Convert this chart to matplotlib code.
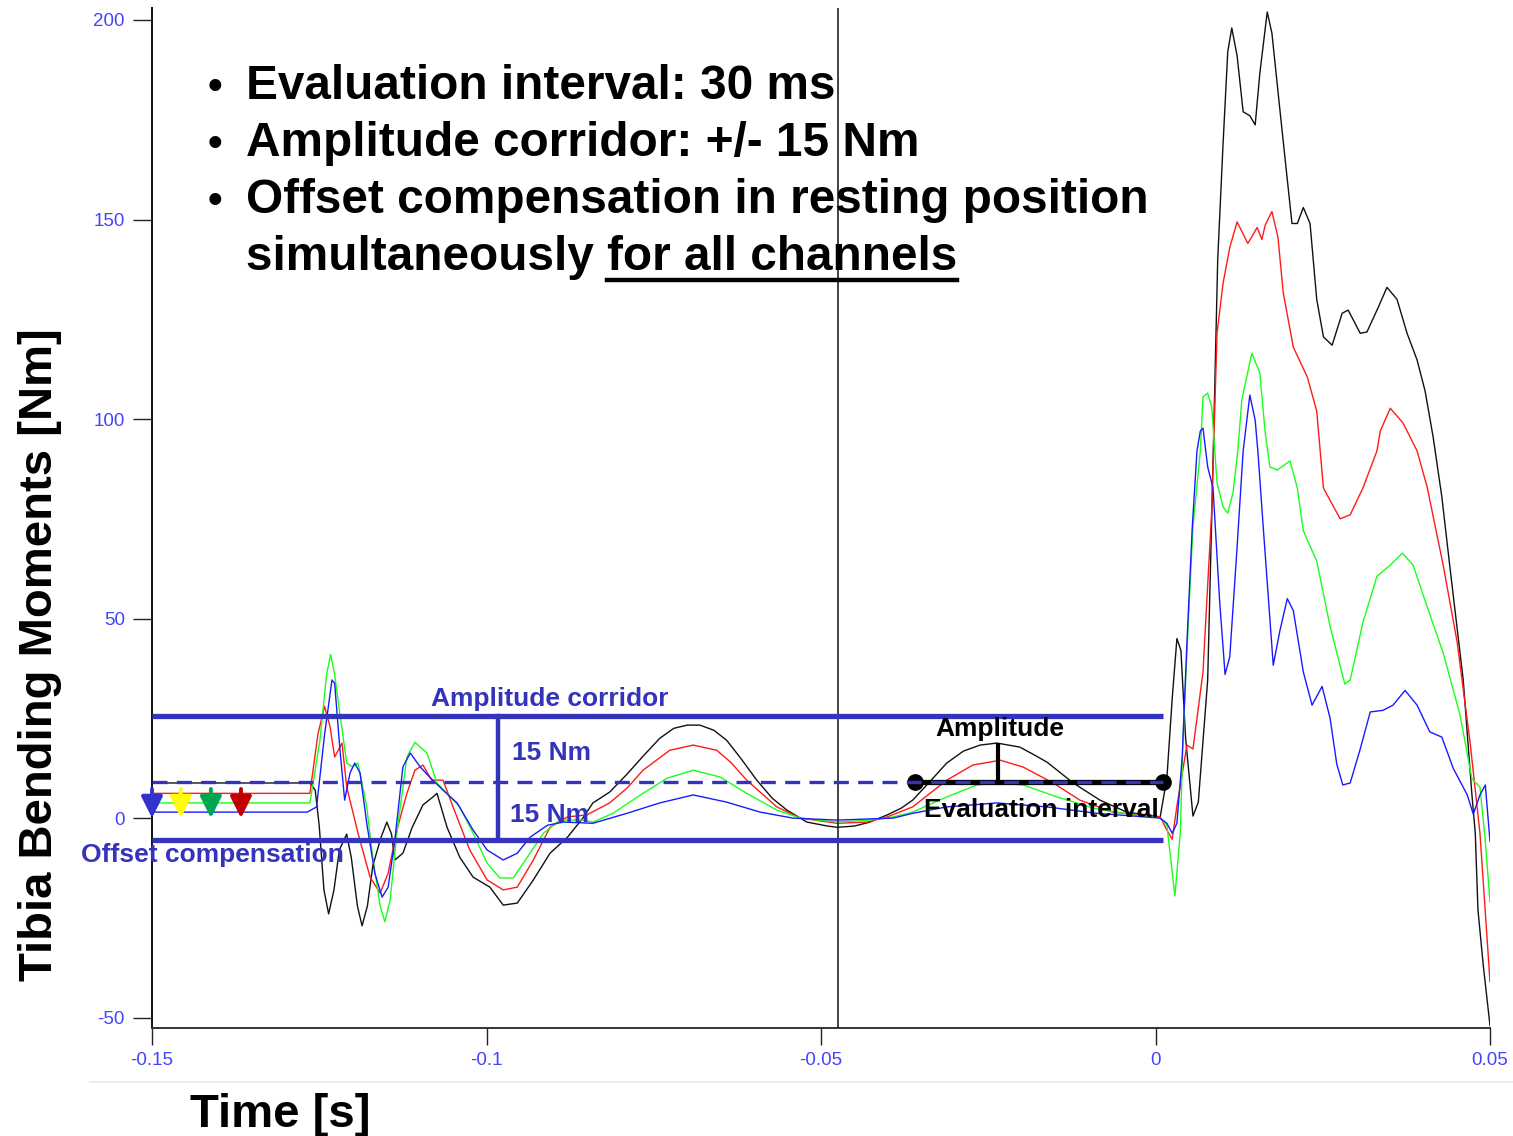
import matplotlib
matplotlib.use('Agg')
import matplotlib.pyplot as plt
from matplotlib.lines import Line2D
import numpy as np

plt.rcParams['font.family'] = ['Liberation Sans', 'DejaVu Sans']
plt.rcParams['axes.unicode_minus'] = False

# time in ms, moment in Nm
black_t = [-150, -126.4, -125.6, -125.0, -124.3, -123.6, -122.8, -122.0, -120.9, -120.2, -119.3, -118.6,
           -117.8, -117.0, -115.8, -114.9, -114.2, -113.7, -112.5, -111.1, -109.5, -108.0, -107.4, -105.9,
           -104.0, -102.0, -99.5, -97.5, -95.4, -93.0, -90.5, -87.9, -85.6, -84.1, -81.6, -79.0, -76.6,
           -74.1, -72.0, -70.0, -68.1, -66.0, -64.1, -62.0, -59.6, -57.3, -55.1, -52.1, -49.0, -47.6,
           -45.0, -42.7, -40.1, -38.0, -36.3, -33.8, -31.2, -28.7, -26.2, -23.7, -20.3, -18.3, -16.2,
           -12.3, -8.3, -4.3, 0.7, 1.7, 2.5, 3.2, 3.8, 4.5, 5.6, 6.4, 7.8, 8.4, 9.3, 10.1, 10.8, 11.4,
           12.2, 13.1, 14.1, 14.9, 15.6, 16.7, 17.4, 18.6, 19.7, 20.4, 21.2, 22.1, 23.1, 24.1, 25.1,
           26.4, 27.9, 28.8, 30.6, 31.6, 33.3, 34.6, 36.1, 37.6, 39.1, 40.3, 41.5, 42.8, 44.0, 46.0,
           47.3, 47.8, 48.2, 49.0, 50.0]
black_y = [8.8, 8.8, 7, -2, -18, -24, -18, -8, -4, -10, -22, -27,
           -22, -12, -5, -1, -4, -10.5, -8.8, -2.3, 3.3, 5.3, 6.2, -2.3,
           -9.8, -14.8, -17.3, -21.8, -21.3, -15.5, -8.8, -4.8, 0, 3.8, 6.5, 11, 15.5,
           20, 22.5, 23.3, 23.3, 22, 19.5, 15, 9.5, 5, 2, -1, -2, -2.3,
           -2, -1, 0.8, 2.5, 4.5, 9, 13.8, 16.8, 18.3, 18.8, 17.8, 16, 14,
           8.8, 4.5, 1.5, 0.3, 10, 30, 45, 42, 20, 0.5, 4, 34.6, 75, 140, 169, 192, 198,
           191, 177, 176, 173.7, 186.7, 202, 196.7, 177.4, 160, 149, 149, 153, 149, 130, 120.6,
           118.5, 126.5, 127.3, 121.5, 121.8, 128, 133, 130, 121.5, 114.8, 107, 95.5, 80.5, 63, 34.6,
           5.8, -3.8, -23, -37, -52]

red_t = [-150, -126.4, -125.2, -124.2, -123.4, -122.7, -121.6, -120.9, -119.2, -117.4, -115.9, -114.7,
         -113.4, -111.9, -110.7, -109.5, -108.2, -106.5, -105.0, -102.5, -99.9, -97.5, -95.4, -93.0,
         -90.5, -87.9, -85.0, -81.6, -79.0, -76.6, -72.6, -69.1, -65.6, -63.5, -61.1, -56.6, -53.1,
         -47.6, -43.1, -40.1, -36.3, -31.2, -27.3, -23.2, -19.8, -15.3, -11.3, -6.4, 0.7, 1.7, 2.5,
         3.2, 4.7, 5.6, 7.1, 8.4, 9.2, 10.1, 11.1, 12.2, 13.8, 15.2, 15.9, 16.4, 17.4, 18.3, 19.1,
         20.6, 22.7, 24.1, 25.1, 27.6, 29.1, 31.0, 33.1, 33.6, 35.1, 37.0, 39.1, 40.6, 43.0, 45.1,
         47.0, 48.5, 50.0]
red_y = [6.2, 6.2, 21, 28, 23, 15.3, 18.8, 7.8, -3.8, -14.8, -18.8, -13.8,
         -3, 6.2, 12, 13.3, 9.5, 9.5, 2.8, -8, -15.5, -18, -17.3, -10.5,
         -2.3, 0.3, 0.8, 3.8, 7.5, 12, 17, 18.3, 17, 14, 9.5, 2.8, 0,
         -1.3, -1, 0.3, 2.8, 9.5, 13.3, 14.5, 12.8, 8.8, 4.5, 1.5, 0.3, -3, -5.3,
         3, 18.3, 17.3, 36.6, 77, 121.5, 134, 143, 149.4, 144, 148, 145, 148.6, 152, 145.6, 131.6,
         118, 110.5, 102, 82.7, 75, 76, 82.7, 92, 97, 102.7, 99, 92, 83, 63.4, 44,
         19.3, -3.8, -41]

green_t = [-150, -126.4, -124.9, -123.9, -123.3, -122.7, -121.9, -120.9, -120.0, -119.2, -117.9, -117.0,
           -115.9, -115.2, -114.4, -113.4, -111.9, -110.7, -108.9, -107.4, -105.9, -104.0, -102.0, -99.9,
           -98.0, -96.0, -93.5, -91.5, -89.0, -85.6, -84.1, -81.1, -76.6, -73.0, -69.1, -65.1, -61.1,
           -56.6, -53.1, -47.6, -42.7, -39.2, -36.3, -31.2, -26.7, -23.7, -19.8, -14.7, -9.3, -3.4, 0.7,
           1.7, 2.9, 3.7, 4.1, 4.9, 5.6, 6.7, 7.1, 7.8, 8.4, 9.2, 10.1, 10.8, 11.6, 12.3, 12.9, 14.4,
           15.6, 16.4, 17.1, 18.2, 20.1, 21.2, 22.1, 24.1, 26.1, 28.3, 29.1, 31.0, 33.1, 35.1, 36.9,
           38.5, 40.6, 43.0, 45.5, 47.3, 48.5, 49.3, 50.0]
green_y = [3.8, 3.8, 19.5, 36, 41, 36, 26, 13.8, 12.8, 13.8, 2.8, -9.8,
           -22, -26, -20.5, -3.8, 15.3, 19, 16.3, 8.8, 6.2, 2.8, -3.8, -11.3,
           -15, -15, -8.8, -3.8, -0.5, -0.5, -1, 1.2, 6.2, 10, 12, 10.3, 6.2,
           2, 0, -1, -0.5, 0.3, 1.5, 5.3, 8.3, 8.8, 8.3, 5.3, 2.5, 0.8, 0,
           -1.8, -19.5, -3.8, 19.3, 49, 73, 92, 105.5, 106.5, 103, 84, 78, 76.4, 81.7, 92, 104.8, 116.5,
           111.5, 96.5, 88, 87.2, 89.5, 82.7, 72, 64.4, 48, 33.6, 34.6, 49, 60.6, 63.4, 66.4,
           63.4, 53, 41.4, 26, 9.8, 7.8, -5.8, -21]

blue_t = [-150, -126.8, -125.4, -124.2, -123.1, -122.7, -121.9, -121.2, -120.4, -119.7, -118.9, -117.9,
          -116.7, -115.6, -114.7, -113.7, -112.5, -111.4, -109.9, -108.5, -106.5, -104.4, -102.0, -99.9,
          -97.5, -95.4, -93.5, -90.9, -88.5, -84.1, -79.0, -74.1, -69.1, -64.1, -59.1, -54.2, -47.6,
          -39.2, -36.3, -31.2, -23.7, -16.2, -8.8, 0.7, 1.7, 2.5, 3.2, 4.0, 4.7, 5.5, 6.2, 6.7, 7.1,
          7.8, 8.6, 9.6, 10.4, 11.1, 12.2, 13.1, 14.1, 14.9, 15.3, 16.1, 17.6, 18.6, 19.7, 20.6, 22.1,
          23.4, 24.9, 26.1, 27.1, 28.0, 29.1, 30.6, 32.1, 34.0, 35.5, 37.3, 39.1, 41.0, 42.8, 44.5,
          46.6, 47.5, 48.5, 49.3, 50.0]
blue_y = [1.5, 1.5, 2.8, 21, 34.6, 33.8, 17, 4.5, 11.3, 13.8, 11.3, -1.3,
          -13.8, -19.8, -17.3, -5.5, 12.8, 16.3, 12.8, 10.3, 7, 3.8, -3, -8,
          -10.5, -8.8, -4.8, -1.8, -1, -1.3, 1.2, 3.8, 5.8, 4, 1.5, 0, -0.5,
          0, 1.2, 2.8, 3.8, 2.8, 1.2, 0, -1.3, -3.8, -1.3, 15.5, 44, 73, 92, 97, 97.7,
          88, 82.7, 54, 36, 40.4, 68, 92, 106, 99.7, 92, 73, 38.3, 47, 55, 52, 36.6,
          28.3, 33, 25, 13.5, 8.3, 8.8, 17.3, 26.6, 27, 28.3, 32, 28.3, 21.6, 20.3, 12.5,
          5.8, 1, 5.8, 8.3, -5.8]

x_ticks = [-0.15, -0.1, -0.05, 0, 0.05]
x_labels = ['-0.15', '-0.1', '-0.05', '0', '0.05']
y_ticks = [-50, 0, 50, 100, 150, 200]

corridor_top = 25.6
corridor_bottom = -5.5
offset_level = 9.0
eval_start, eval_end = -0.036, 0.0011
amp_t, amp_peak = -0.0235, 18.8

W, H = 1513, 1136
fig = plt.figure(figsize=(W / 100, H / 100), dpi=100)
ax = fig.add_axes([152 / W, 1 - 1028 / H, (1490 - 152) / W, (1028 - 8) / H])


def fx(px):
    return px / W


def fy(py):
    return 1 - py / H


ms = lambda v: np.array(v) / 1000.0

ax.plot(ms(black_t), black_y, color='#111111', lw=1.0, zorder=2)
ax.plot(ms(red_t), red_y, color='#ff1a1a', lw=1.0, zorder=2)
ax.plot(ms(green_t), green_y, color='#1aff1a', lw=1.0, zorder=2)
ax.plot(ms(blue_t), blue_y, color='#1a1aff', lw=1.0, zorder=2)

ax.axvline(-0.0475, color='#222222', lw=1.2, zorder=3)

anno_blue = '#3333bb'
ax.plot([-0.15, 0.0011], [corridor_top] * 2, color=anno_blue, lw=3.8, solid_capstyle='butt', zorder=5)
ax.plot([-0.15, 0.0011], [corridor_bottom] * 2, color=anno_blue, lw=3.8, solid_capstyle='butt', zorder=5)
ax.plot([-0.0983] * 2, [corridor_bottom, corridor_top], color=anno_blue, lw=3.2, zorder=5)

# evaluation interval bar
ax.plot([eval_start, eval_end], [offset_level] * 2, color='black', lw=3.8, zorder=5,
        marker='o', markersize=11, markevery=[0, 1])
ax.plot([amp_t] * 2, [offset_level, amp_peak], color='black', lw=3.0, solid_capstyle='butt', zorder=5)
ax.plot([-0.15, 0.0011], [offset_level] * 2, color=anno_blue, lw=2.4, zorder=6,
        dashes=(4.5, 2.8), dash_capstyle='butt')

# offset arrows
for xa, c in zip([-0.150, -0.1457, -0.1412, -0.1367], ['#3333cc', '#ffff00', '#00a650', '#c00000']):
    ax.annotate('', xy=(xa, 0.0), xytext=(xa, 7.3),
                arrowprops=dict(arrowstyle='-|>,head_width=0.5,head_length=1.0', color=c, lw=2.8,
                                shrinkA=0, shrinkB=0, mutation_scale=13), zorder=7)

ax.set_xlim(-0.15, 0.05)
ax.set_ylim(-52.6, 203)
ax.set_xticks(x_ticks)
ax.set_xticklabels(x_labels)
ax.set_yticks(y_ticks)
for s in ['top', 'right']:
    ax.spines[s].set_visible(False)
ax.spines['left'].set_color('#111111')
ax.spines['left'].set_linewidth(1.4)
ax.spines['bottom'].set_color('#333333')
ax.spines['bottom'].set_linewidth(1.4)
ax.tick_params(axis='y', length=13.5, width=1, color='#222222', pad=6, labelsize=13.5, labelcolor='#4444ff')
ax.tick_params(axis='x', length=12, width=1, color='#222222', pad=5, labelsize=13.5, labelcolor='#4444ff')

# annotation texts (figure pixels)
fig.text(fx(431), fy(706), 'Amplitude corridor', color=anno_blue, fontsize=19, fontweight='bold', va='baseline')
fig.text(fx(512), fy(760), '15 Nm', color=anno_blue, fontsize=19, fontweight='bold', va='baseline', zorder=8)
fig.text(fx(510), fy(822), '15 Nm', color=anno_blue, fontsize=19, fontweight='bold', va='baseline', zorder=8)
fig.text(fx(81), fy(862), 'Offset compensation', color=anno_blue, fontsize=19, fontweight='bold', va='baseline')
fig.text(fx(935), fy(736), 'Amplitude', color='black', fontsize=19, fontweight='bold', va='baseline')
fig.text(fx(924), fy(817), 'Evaluation interval', color='black', fontsize=19, fontweight='bold', va='baseline')

# bullet list
bullets = ['Evaluation interval: 30 ms', 'Amplitude corridor: +/- 15 Nm', 'Offset compensation in resting position']
for i, b in enumerate(bullets):
    base = 99 + 57 * i
    fig.text(fx(208), fy(base), '\u2022', fontsize=30, fontweight='bold', va='baseline')
    fig.text(fx(246), fy(base), b, fontsize=34.4, fontweight='bold', va='baseline')
t1 = fig.text(fx(246), fy(270), 'simultaneously ', fontsize=34.4, fontweight='bold', va='baseline')
fig.canvas.draw()
bb1 = t1.get_window_extent()
t2 = fig.text(bb1.x1 / W, fy(270), 'for all channels', fontsize=34.4, fontweight='bold', va='baseline')
fig.canvas.draw()
bb2 = t2.get_window_extent()
fig.add_artist(Line2D([bb2.x0 / W, bb2.x1 / W], [fy(280)] * 2, color='black', lw=3.2))

# axis labels
fig.text(fx(40), fy(655), 'Tibia Bending Moments [Nm]', rotation=90, fontsize=34, fontweight='bold',
         ha='center', va='center')
fig.text(fx(190), fy(1127), 'Time [s]', fontsize=34, fontweight='bold', va='baseline')

fig.add_artist(Line2D([fx(90), 1.0], [fy(1082)] * 2, color='#eeeae0', lw=1.2))

fig.savefig('out.png', dpi=100)
